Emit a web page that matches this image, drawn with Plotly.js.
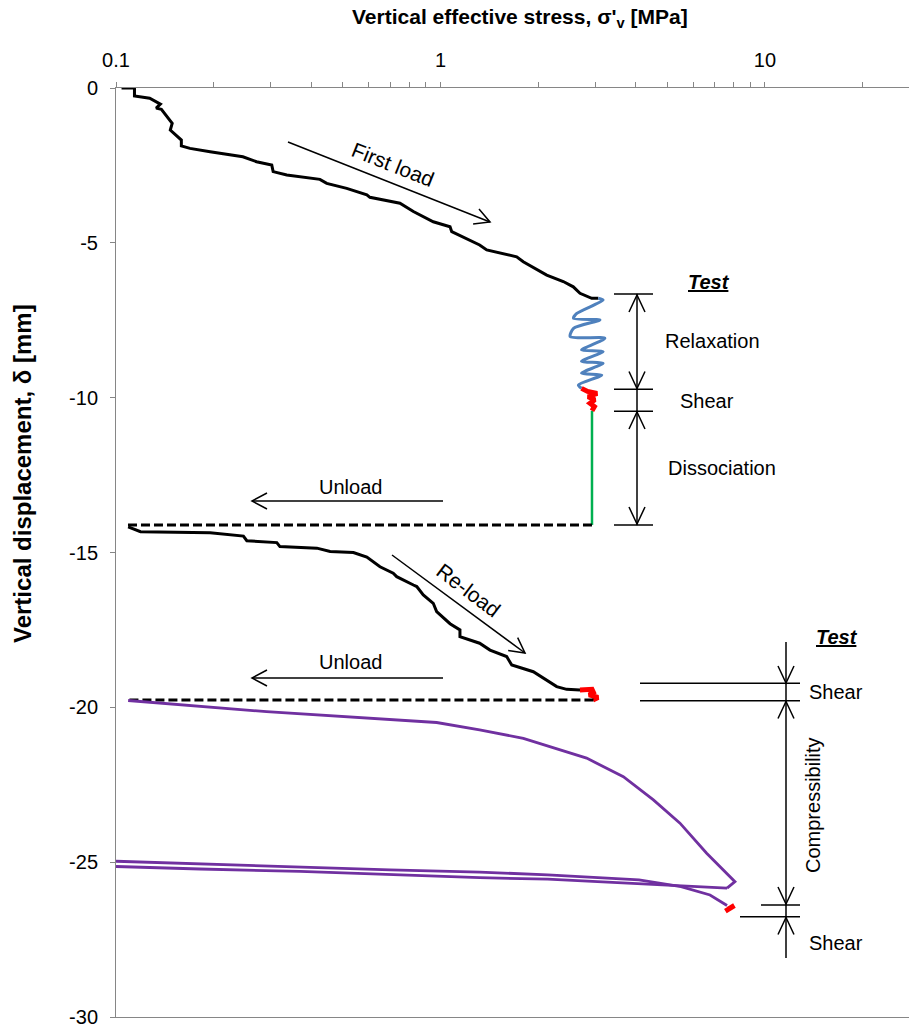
<!DOCTYPE html>
<html>
<head>
<meta charset="utf-8">
<script src="https://cdn.plot.ly/plotly-3.0.1.min.js"></script>
<style>html,body{margin:0;padding:0;background:#fff;}#chart{width:909px;height:1027px;}</style>
</head>
<body>
<div id="chart"></div>
<script>
// ---------- data (stress in MPa, displacement in mm) ----------
const firstLoadX = [0.104,0.114,0.114,0.127,0.137,0.133,0.138,0.149,0.147,0.159,0.159,0.169,0.195,0.246,0.271,0.302,0.305,0.336,0.425,0.446,0.514,0.593,0.606,0.750,0.825,0.950,1.070,1.083,1.320,1.388,1.717,1.799,2.125,2.390,2.566,2.691,2.924,3.064];
const firstLoadY = [0,0,-0.26,-0.33,-0.52,-0.65,-0.69,-1.14,-1.36,-1.68,-1.87,-1.95,-2.06,-2.22,-2.38,-2.49,-2.70,-2.81,-2.95,-3.08,-3.24,-3.45,-3.53,-3.72,-3.99,-4.32,-4.48,-4.64,-5.07,-5.23,-5.45,-5.61,-6.04,-6.25,-6.42,-6.63,-6.79,-6.79];

const relaxX = [3.064,3.17,2.63,2.57,3.10,2.57,2.51,3.21,2.72,3.17,2.72,3.17,2.72,3.14,2.66,2.72];
const relaxY = [-6.79,-6.85,-7.28,-7.44,-7.49,-7.76,-8.03,-8.08,-8.46,-8.51,-8.83,-8.89,-9.21,-9.27,-9.59,-9.70];

const shear1X = [2.72,2.84,3.04,2.85,2.99,2.89,2.98,2.93];
const shear1Y = [-9.70,-9.80,-9.86,-9.97,-10.07,-10.18,-10.29,-10.42];

const dissocX = [2.93,2.93];
const dissocY = [-10.42,-14.11];

const unload1X = [2.93,0.108];
const unload1Y = [-14.11,-14.11];

const reloadX = [0.109,0.119,0.195,0.247,0.253,0.313,0.320,0.416,0.457,0.539,0.593,0.651,0.715,0.733,0.825,0.845,0.885,0.950,0.973,1.070,1.148,1.148,1.320,1.421,1.599,1.658,1.932,2.074,2.281,2.448,2.691];
const reloadY = [-14.17,-14.33,-14.36,-14.47,-14.62,-14.68,-14.81,-14.86,-14.97,-15.00,-15.15,-15.46,-15.67,-15.78,-16.05,-16.10,-16.37,-16.64,-16.91,-17.30,-17.50,-17.72,-17.93,-18.15,-18.36,-18.63,-18.85,-19.06,-19.33,-19.42,-19.44];

const shear2X = [2.69,2.93,2.96,2.87,3.06,2.95];
const shear2Y = [-19.44,-19.42,-19.52,-19.60,-19.68,-19.76];

const unload2X = [2.96,0.108];
const unload2Y = [-19.76,-19.76];

const compressX = [0.109,0.291,0.973,1.32,1.80,2.82,3.66,4.53,5.47,6.61,8.08,7.64];
const compressY = [-19.78,-20.14,-20.49,-20.73,-21.00,-21.64,-22.24,-22.99,-23.74,-24.71,-25.63,-25.84];

const unload3X = [7.64,5.21,4.09,2.14,1.32,0.699,0.369,0.1815,0.1];
const unload3Y = [-25.84,-25.76,-25.70,-25.55,-25.50,-25.39,-25.30,-25.22,-25.14];

const reload3X = [0.1,0.1815,0.369,0.699,1.32,2.14,4.09,5.51,6.77,7.64];
const reload3Y = [-24.97,-25.06,-25.15,-25.25,-25.32,-25.41,-25.57,-25.79,-26.06,-26.40];

const shear3X = [7.55,7.8,8.05,7.7];
const shear3Y = [-26.58,-26.48,-26.40,-26.52];

const xTickVals = [0.1,0.2,0.3,0.4,0.5,0.6,0.7,0.8,0.9,1,2,3,4,5,6,7,8,9,10,20];
const xTickText = ['0.1','','','','','','','','','1','','','','','','','','','10',''];
const yTickVals = [0,-5,-10,-15,-20,-25,-30];
const yTickText = ['0','-5','-10','-15','-20','-25','-30'];

// ---------- styling ----------
const FONT = 'Liberation Sans, Arial, sans-serif';
const BLACK = '#000000', BLUE = '#4F81BD', RED = '#FF0000', GREEN = '#00B050', PURPLE = '#7030A0';

function tr(x, y, color, width, dash, shape) {
  return {x: x, y: y, type: 'scatter', mode: 'lines', hoverinfo: 'skip',
    line: {color: color, width: width, dash: dash || 'solid', shape: shape || 'linear', smoothing: 0.7}};
}
const traces = [
  tr(firstLoadX, firstLoadY, BLACK, 3),
  tr(relaxX, relaxY, BLUE, 3, 'solid', 'spline'),
  tr(dissocX, dissocY, GREEN, 2.5),
  tr(shear1X, shear1Y, RED, 5),
  tr(unload1X, unload1Y, BLACK, 3, '9px,4px'),
  tr(reloadX, reloadY, BLACK, 3),
  tr(shear2X, shear2Y, RED, 5),
  tr(unload2X, unload2Y, BLACK, 3, '9px,4px'),
  tr(compressX, compressY, PURPLE, 2.8),
  tr(unload3X, unload3Y, PURPLE, 2.8),
  tr(reload3X, reload3Y, PURPLE, 2.8),
  tr(shear3X, shear3Y, RED, 5)
];

// ---------- decoration helpers (pixel -> paper) ----------
const L = 116, T = 88, PW = 793, PH = 929;
const pxX = p => (p - L) / PW;
const pxY = p => (T + PH - p) / PH;
const shapes = [];
function seg(x1, y1, x2, y2, w) {
  shapes.push({type: 'line', xref: 'paper', yref: 'paper', x0: pxX(x1), y0: pxY(y1), x1: pxX(x2), y1: pxY(y2),
    line: {color: BLACK, width: w || 1.5}});
}
function head(tx, ty, dx, dy, len, half) {
  const n = Math.hypot(dx, dy), ux = dx / n, uy = dy / n;
  const ax = tx - len * ux - half * uy, ay = ty - len * uy + half * ux;
  const bx = tx - len * ux + half * uy, by = ty - len * uy - half * ux;
  shapes.push({type: 'path', xref: 'paper', yref: 'paper',
    path: `M ${pxX(ax)},${pxY(ay)} L ${pxX(tx)},${pxY(ty)} L ${pxX(bx)},${pxY(by)}`,
    line: {color: BLACK, width: 1.5}});
}
function arrow(x1, y1, x2, y2) {
  seg(x1, y1, x2, y2, 1.5);
  head(x2, y2, x2 - x1, y2 - y1, 15, 8);
}
// text arrows
arrow(288, 142, 490, 222);
arrow(392, 555, 525, 653);
arrow(443, 501, 252, 501);
arrow(443, 678, 252, 678);
// bracket 1
[294, 389.3, 411.3, 525].forEach(y => seg(614, y, 653, y));
seg(637, 294, 637, 525);
head(637, 295, 0, -1, 17, 8);
head(637, 388.5, 0, 1, 17, 8);
head(637, 412, 0, -1, 17, 8);
head(637, 524, 0, 1, 17, 8);
// bracket 2
seg(786, 642, 786, 958);
seg(640, 683.3, 800, 683.3);
seg(640, 700.7, 800, 700.7);
seg(761, 905, 800, 905);
seg(740, 916.7, 800, 916.7);
head(786, 683, 0, 1, 17, 8);
head(786, 701.5, 0, -1, 17, 8);
head(786, 904, 0, 1, 17, 8);
head(786, 917.5, 0, -1, 17, 8);

const annotations = [];
function label(text, x, y, size, angle) {
  annotations.push({text: text, xref: 'paper', yref: 'paper', x: pxX(x), y: pxY(y),
    xanchor: 'center', yanchor: 'middle', showarrow: false, textangle: angle || 0,
    font: {family: FONT, size: size, color: BLACK}});
}
label('First load', 393, 164, 21, 21.6);
label('Re-load', 469, 590, 21, 37);
label('Unload', 350, 487, 20);
label('Unload', 350, 662, 20);
label('<b><i><u>Test</u></i></b>', 709, 282, 20);
label('Relaxation', 712, 341, 20);
label('Shear', 707, 401, 20);
label('Dissociation', 722, 468, 20);
label('<b><i><u>Test</u></i></b>', 837, 637, 20);
label('Shear', 836, 692, 20);
label('Compressibility', 813, 805, 20, -90);
label('Shear', 836, 943, 20);
// axis titles
label("<b>Vertical effective stress, σ'<sub>v</sub> [MPa]</b>", 520, 18, 21);
label('<b>Vertical displacement, δ [mm]</b>', 22, 474, 24, -90);

const layout = {
  width: 909, height: 1027,
  margin: {l: L, r: 0, t: T, b: 10},
  paper_bgcolor: '#fff', plot_bgcolor: '#fff',
  showlegend: false,
  font: {family: FONT, color: BLACK},
  xaxis: {
    type: 'log', range: [-1, Math.log10(0.1) + 2.4438], side: 'top',
    showline: true, linecolor: '#868686', linewidth: 1, mirror: true,
    ticks: 'outside', ticklen: 5, tickcolor: '#868686',
    tickmode: 'array', tickvals: xTickVals, ticktext: xTickText, tickangle: 0,
    tickfont: {family: FONT, size: 20, color: BLACK}, ticklabelstandoff: 7,
    showgrid: false, zeroline: false, fixedrange: true
  },
  yaxis: {
    range: [-30, 0],
    showline: true, linecolor: '#868686', linewidth: 1,
    ticks: 'outside', ticklen: 5, tickcolor: '#868686',
    tickmode: 'array', tickvals: yTickVals, ticktext: yTickText,
    tickfont: {family: FONT, size: 20, color: BLACK}, ticklabelstandoff: 8,
    ticklabeloverflow: 'allow',
    showgrid: false, zeroline: false, fixedrange: true
  },
  shapes: shapes,
  annotations: annotations
};
Plotly.newPlot('chart', traces, layout, {displayModeBar: false, staticPlot: true});
</script>
</body>
</html>
